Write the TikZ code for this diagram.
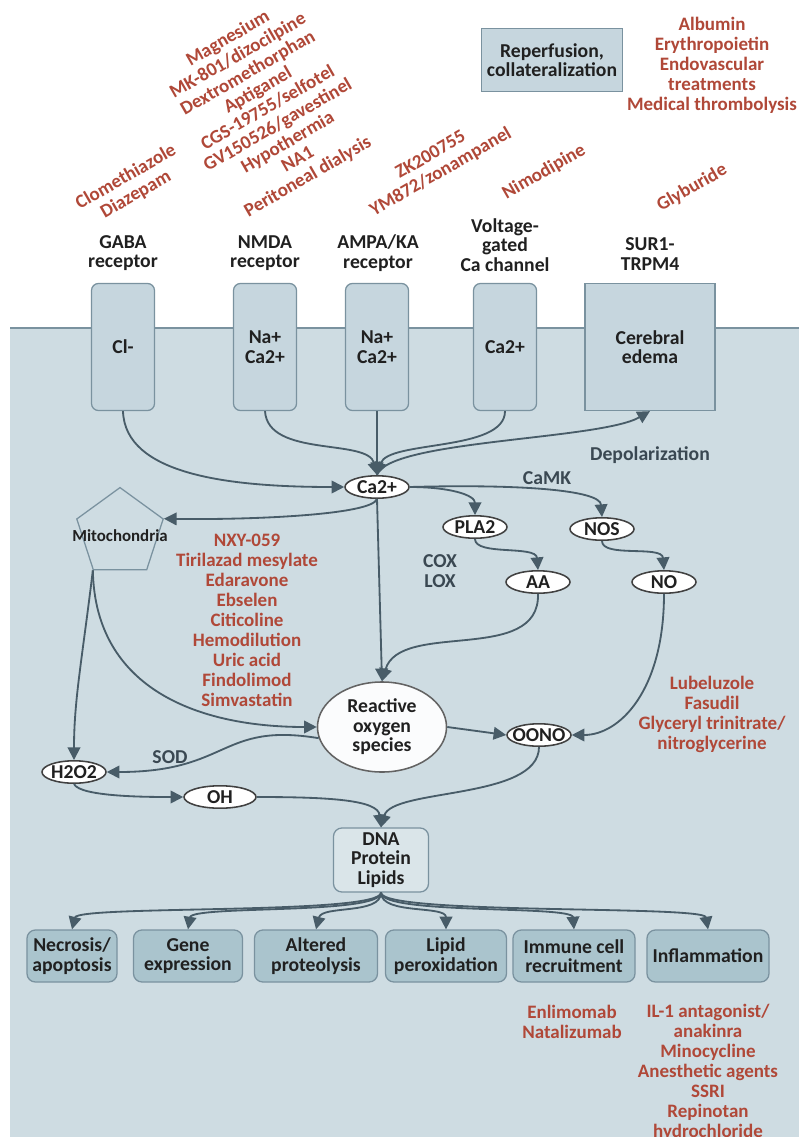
\documentclass[tikz,border=0pt]{standalone}
\usepackage{fontspec}
\setmainfont{Carlito}
\usepackage{tikz}
\usetikzlibrary{arrows.meta,shapes.geometric}
\definecolor{cellbg}{RGB}{206,220,226}
\definecolor{recfill}{RGB}{198,214,222}
\definecolor{outfill}{RGB}{170,196,205}
\definecolor{edge}{RGB}{122,146,159}
\definecolor{arrowc}{RGB}{72,92,104}
\definecolor{drugc}{RGB}{176,72,56}
\definecolor{ink}{RGB}{32,32,32}
\definecolor{note}{RGB}{58,72,82}

\begin{document}
\begin{tikzpicture}[x=0.025cm,y=-0.025cm, every node/.style={font=\bfseries\fontsize{14}{13.8}\selectfont,text=ink},
      rec/.style={draw=edge,fill=recfill,line width=0.9pt,rounded corners=5pt,minimum width=1.575cm,minimum height=3.175cm,align=center,inner sep=2pt},
      ion/.style={draw=ink!85,fill=white,line width=1.1pt,ellipse,minimum width=1.6cm,minimum height=0.56cm,inner xsep=-3pt,inner ysep=0pt},
      outbox/.style={draw=edge,fill=outfill,line width=0.9pt,rounded corners=6pt,minimum height=1.3cm,align=center,inner xsep=1pt},
      drug/.style={text=drugc,align=center,font=\bfseries\fontsize{13.5}{14.2}\selectfont},
      tag/.style={align=center},
      note/.style={text=note,align=center},
      arr/.style={draw=arrowc,line width=1.3pt,-{Triangle[length=9pt,width=9pt]}}]
  \useasboundingbox (0,0) rectangle (799,1137);
  \fill[white] (0,0) rectangle (799,1137);
  \fill[cellbg] (10,328) rectangle (799,1137);
  \draw[edge,line width=1.2pt] (10,328) -- (799,328);

  \node[rec] (gaba) at (123,347) {Cl-};
  \node[rec] (nmda) at (265,347) {Na+\\Ca2+};
  \node[rec] (ampa) at (377,347) {Na+\\Ca2+};
  \node[rec] (vgcc) at (505,347) {Ca2+};
  \node[rec,rounded corners=0pt,minimum width=3.25cm] (sur) at (650,347) {Cerebral\\edema};
  \node[tag] (gabat) at (123,253) {GABA\\receptor};
  \node[tag] (nmdat) at (265,253) {NMDA\\receptor};
  \node[tag] (ampat) at (378,253) {AMPA/KA\\receptor};
  \node[tag] (vgcct) at (505,245) {Voltage-\\gated\\Ca channel};
  \node[tag] (surt) at (650,254) {SUR1-\\TRPM4};

  \node[rec,rounded corners=0pt,minimum width=3.525cm,minimum height=1.575cm] (rep) at (552,60) {Reperfusion,\\collateralization};
  \node[drug] (repdrug) at (712,65) {Albumin\\Erythropoietin\\Endovascular\\treatments\\Medical thrombolysis};

  \node[drug,rotate=30] (gabadrug) at (131,186) {Clomethiazole\\Diazepam};
  \node[drug,rotate=30] (nmdadrug) at (268,108) {Magnesium\\MK-801/dizocilpine\\Dextromethorphan\\Aptiganel\\CGS-19755/selfotel\\GV150526/gavestinel\\Hypothermia\\NA1\\Peritoneal dialysis};
  \node[drug,rotate=30] (ampadrug) at (436,164) {ZK200755\\YM872/zonampanel};
  \node[drug,rotate=30] (vgccdrug) at (544,172) {Nimodipine};
  \node[drug,rotate=30] (surdrug) at (692,188) {Glyburide};

  \node[ion] (ca) at (377,487) {Ca2+};
  \node[ion] (pla) at (475,527) {PLA2};
  \node[ion] (nos) at (602,529) {NOS};
  \node[ion] (aa) at (538,582) {AA};
  \node[ion] (no) at (664,582) {NO};
  \node[ion] (oono) at (539,735) {OONO};
  \node[ion] (hoo) at (74,772) {H2O2};
  \node[ion,minimum width=1.8cm] (oh) at (220,797) {OH};
  \node[draw=ink!70,fill=white!92!cellbg,line width=1.1pt,ellipse,minimum width=3.225cm,minimum height=2.25cm,inner sep=0pt,align=center] (ros) at (382,727) {Reactive\\oxygen\\species};
  \node[draw=edge,fill=cellbg,line width=0.9pt,regular polygon,regular polygon sides=5,minimum size=2.27cm,inner sep=0pt,
        label={[font=\bfseries\fontsize{12}{13}\selectfont,yshift=-2pt]center:Mitochondria}] (mito) at (120,533) {};
  \node[draw=edge,fill=white!25!cellbg,line width=0.9pt,rounded corners=6pt,minimum width=2.375cm,minimum height=1.6cm,inner sep=1pt,align=center] (dna) at (381,860) {DNA\\Protein\\Lipids};

  \node[note] (depol) at (650,455) {Depolarization};
  \node[note] (camk) at (547,478) {CaMK};
  \node[note] (coxlox) at (440,571) {COX\\LOX};
  \node[note] (sod) at (170,757) {SOD};

  \node[drug] (oxdrug) at (247,620) {NXY-059\\Tirilazad mesylate\\Edaravone\\Ebselen\\Citicoline\\Hemodilution\\Uric acid\\Findolimod\\Simvastatin};
  \node[drug] (nodrug) at (712,714) {Lubeluzole\\Fasudil\\Glyceryl trinitrate/\\nitroglycerine};

  \node[outbox,minimum width=2.25cm] (nec) at (72,956) {Necrosis/\\apoptosis};
  \node[outbox,minimum width=2.725cm] (gene) at (188,956) {Gene\\expression};
  \node[outbox,minimum width=3.075cm] (alt) at (316,956) {Altered\\proteolysis};
  \node[outbox,minimum width=3.025cm] (lip) at (446,956) {Lipid\\peroxidation};
  \node[outbox,minimum width=3.05cm] (imm) at (574,956) {Immune cell\\recruitment};
  \node[outbox,minimum width=3.05cm] (infl) at (708,956) {Inflammation};
  \node[drug] (immdrug) at (572,1022) {Enlimomab\\Natalizumab};
  \node[drug] (infldrug) at (708,1072) {IL-1 antagonist/\\anakinra\\Minocycline\\Anesthetic agents\\SSRI\\Repinotan\\hydrochloride};

  \draw[arr] (gaba.south) .. controls (125,475) and (230,487) .. (ca.west);
  \draw[arr] (nmda.south) .. controls (268,458) and (368,438) .. (ca.north);
  \draw[arr] (ampa.south) -- (ca.north);
  \draw[arr] (vgcc.south) .. controls (505,452) and (388,440) .. (ca.north);
  \draw[arr] (ca.north) .. controls (388,440) and (600,440) .. (sur.south);
  \draw[arr] (ca.east) .. controls (450,487) and (475,495) .. (pla.north);
  \draw[arr] (ca.east) .. controls (520,484) and (600,490) .. (nos.north);
  \draw[arr] (ca.south) .. controls (372,515) and (250,520) .. (mito.corner 5);
  \draw[arr] (ca.south) -- (ros.north);
  \draw[arr] (pla.south) .. controls (475,556) and (536,545) .. (aa.north);
  \draw[arr] (nos.south) .. controls (602,558) and (662,545) .. (no.north);
  \draw[arr] (aa.south) .. controls (540,665) and (400,620) .. (ros.north);
  \draw[arr] (no.south) .. controls (664,690) and (620,735) .. (oono.east);
  \draw[arr] (ros.east) -- (oono.west);
  \draw[arr] (mito.corner 3) .. controls (95,690) and (200,727) .. (ros.west);
  \draw[arr] (mito.corner 3) .. controls (82,660) and (74,700) .. (hoo.north);
  \draw[arr] (ros.190) .. controls (220,722) and (230,772) .. (hoo.east);
  \draw[arr] (hoo.south) .. controls (80,797) and (150,797) .. (oh.west);
  \draw[arr] (oh.east) .. controls (330,797) and (378,800) .. (dna.north);
  \draw[arr] (oono.south) .. controls (539,800) and (392,788) .. (dna.north);
  \foreach \b/\xx in {nec/78,gene/192,alt/322,lip/446,imm/572,infl/704}
    \draw[arr] (dna.south) .. controls (381,915) and (\xx,905) .. (\b.north);
\end{tikzpicture}
\end{document}
